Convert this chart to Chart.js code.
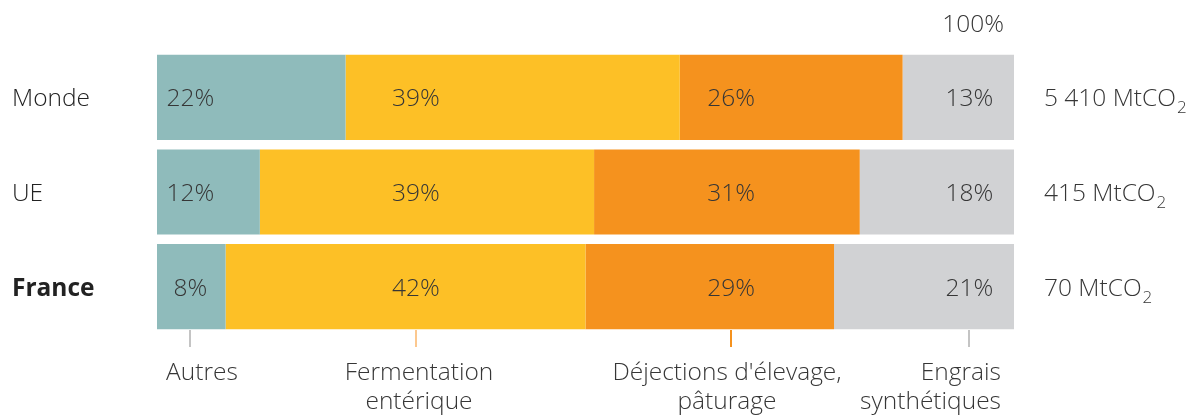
<!DOCTYPE html>
<html>
<head>
<meta charset="utf-8">
<script src="https://cdn.jsdelivr.net/npm/chart.js@4"></script>
<style>
  body { margin: 0; background: #fff; }
  #wrap { width: 1197px; height: 415px; }
</style>
</head>
<body>
<div id="wrap"><canvas id="chart"></canvas></div>
<script>
// Data
const categories = ["Monde", "UE", "France"];
const totals = ["5 410", "415", "70"];
const autres = [22, 12, 8];
const fermentation = [39, 39, 42];
const dejections = [26, 31, 29];
const engrais = [13, 18, 21];
const seriesNames = [["Autres"], ["Fermentation", "entérique"], ["Déjections d'élevage,", "pâturage"], ["Engrais", "synthétiques"]];
// where each column of labels / ticks sits, in % of the axis
const columnAnchors = [3.9, 30.2, 67.0, 94.8];

const colors = ["#8fbbbb", "#fdc026", "#f5921e", "#d1d2d4"];
const tickColors = ["#c4c4c4", "#fcc88f", "#f5921e", "#c4c4c4"];
const textColor = "#363636";
const FONT = "'Open Sans', sans-serif";
const SIZE = 24.5;

Chart.defaults.font.family = FONT;
Chart.defaults.font.weight = "300";
Chart.defaults.font.size = SIZE;
Chart.defaults.color = textColor;

// Draw values, bottom legend, totals and the 100% mark
const annotations = {
  id: "annotations",
  afterDatasetsDraw(chart) {
    const ctx = chart.ctx;
    const x = chart.scales.x;
    const area = chart.chartArea;
    const mainFont = "300 " + SIZE + "px " + FONT;
    ctx.save();
    ctx.fillStyle = textColor;
    ctx.font = mainFont;
    ctx.textBaseline = "middle";
    ctx.textAlign = "center";

    // percentages inside the bars
    chart.data.datasets.forEach((ds, i) => {
      const meta = chart.getDatasetMeta(i);
      meta.data.forEach((bar, j) => {
        ctx.fillText(ds.data[j] + "%", x.getPixelForValue(columnAnchors[i]), bar.y + 2);
      });
    });

    // bottom ticks and series names
    seriesNames.forEach((lines, i) => {
      const px = Math.round(x.getPixelForValue(columnAnchors[i]));
      ctx.strokeStyle = tickColors[i];
      ctx.lineWidth = 2;
      ctx.beginPath();
      ctx.moveTo(px, area.bottom - 4);
      ctx.lineTo(px, area.bottom + 13);
      ctx.stroke();
      let tx = px + 12, align = "center";
      if (i === 1) tx = px + 3;
      if (i === 2) tx = px - 4;
      if (i === 3) { tx = x.right - 13; align = "right"; }
      ctx.textAlign = align;
      lines.forEach((line, k) => {
        ctx.fillText(line, tx, area.bottom + 39 + k * 29.5);
      });
    });

    // totals on the right
    ctx.textAlign = "left";
    const meta0 = chart.getDatasetMeta(0);
    meta0.data.forEach((bar, j) => {
      const s = totals[j] + " MtCO";
      const tx = x.right + 30;
      ctx.font = mainFont;
      ctx.fillText(s, tx, bar.y + 2);
      const w = ctx.measureText(s).width;
      ctx.font = "300 17px " + FONT;
      ctx.fillText("2", tx + w + 1, bar.y + 11);
    });

    // 100% mark
    ctx.font = mainFont;
    ctx.textAlign = "right";
    ctx.fillText("100%", x.right - 10, 25);
    ctx.restore();
  }
};

const makeDataset = (label, data, color) => ({
  label: label,
  data: data,
  backgroundColor: color,
  borderWidth: 0,
  categoryPercentage: 0.9,
  barPercentage: 1.0,
});

new Chart(document.getElementById("chart"), {
  type: "bar",
  data: {
    labels: categories,
    datasets: [
      makeDataset("Autres", autres, colors[0]),
      makeDataset("Fermentation entérique", fermentation, colors[1]),
      makeDataset("Déjections d'élevage, pâturage", dejections, colors[2]),
      makeDataset("Engrais synthétiques", engrais, colors[3]),
    ],
  },
  options: {
    indexAxis: "y",
    responsive: true,
    maintainAspectRatio: false,
    animation: false,
    layout: { padding: { left: 12, right: 183, top: 50, bottom: 81 } },
    plugins: {
      legend: { display: false },
      tooltip: { enabled: false },
    },
    scales: {
      x: {
        stacked: true,
        min: 0,
        max: 100,
        display: false,
      },
      y: {
        stacked: true,
        grid: { display: false },
        border: { display: false },
        afterFit(scale) { scale.width = 145; },
        ticks: {
          crossAlign: "far",
          labelOffset: 2,
          color: "#222",
          font: (c) => c.index === 2 ? { size: SIZE, weight: "bold" } : { size: SIZE, weight: "300" },
        },
      },
    },
  },
  plugins: [annotations],
});
</script>
</body>
</html>
